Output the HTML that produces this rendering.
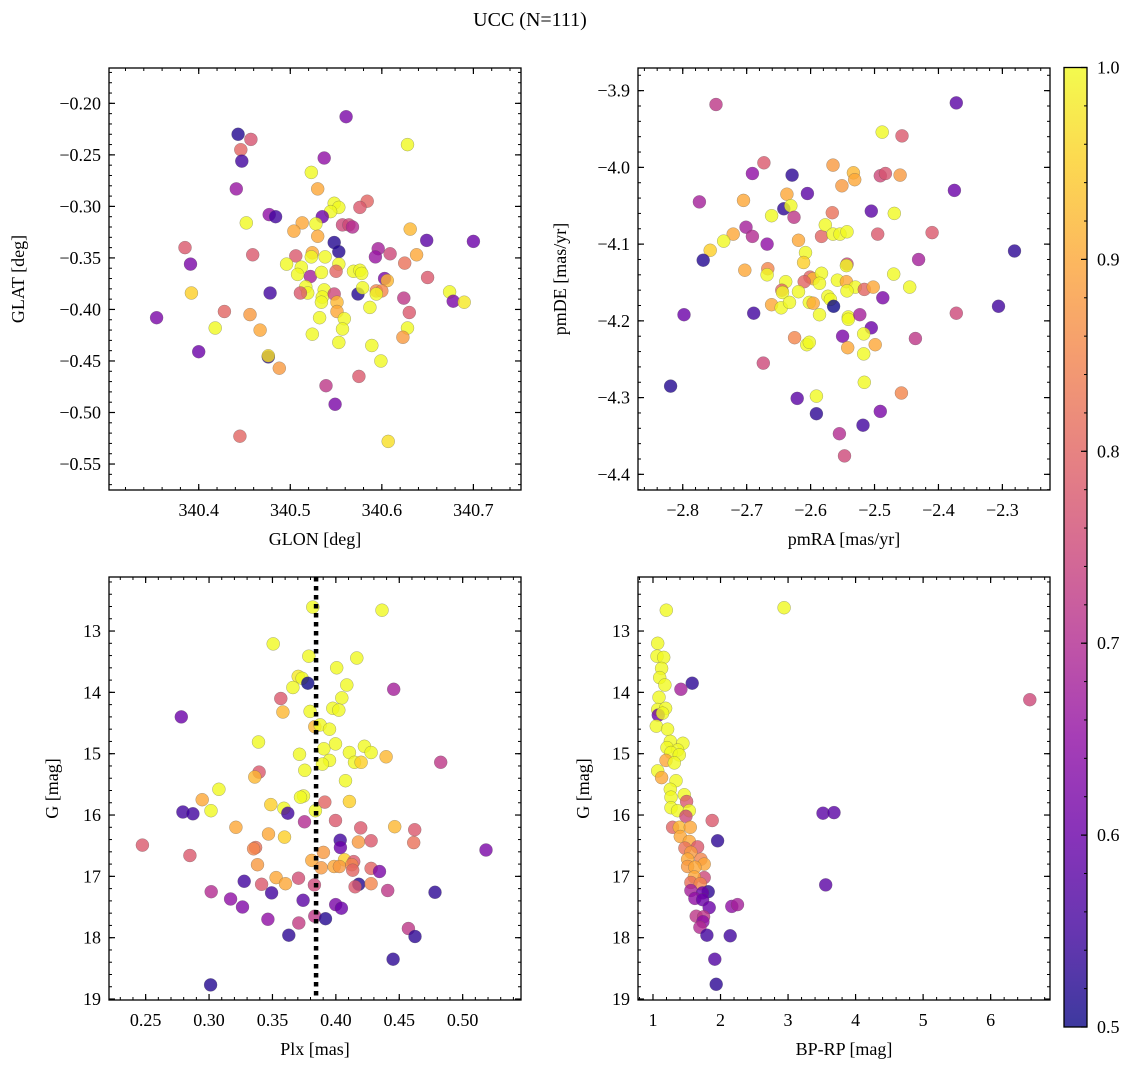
<!DOCTYPE html>
<html><head><meta charset="utf-8"><style>
html,body{margin:0;padding:0;background:#fff;}
svg{display:block;font-family:"Liberation Serif","DejaVu Serif",serif;}
</style></head><body>
<svg id="fig" width="1136" height="1067" viewBox="0 0 1136 1067" xmlns="http://www.w3.org/2000/svg">
<defs>
<linearGradient id="plasma" x1="0" y1="1" x2="0" y2="0">
<stop offset="0" stop-color="#0d0887"/><stop offset="0.1" stop-color="#41049d"/><stop offset="0.2" stop-color="#6a00a8"/><stop offset="0.3" stop-color="#8f0da4"/><stop offset="0.4" stop-color="#b12a90"/><stop offset="0.5" stop-color="#cc4778"/><stop offset="0.6" stop-color="#e16462"/><stop offset="0.7" stop-color="#f2844b"/><stop offset="0.8" stop-color="#fca636"/><stop offset="0.9" stop-color="#fcce25"/><stop offset="1" stop-color="#f0f921"/>
</linearGradient>
</defs>
<text x="530" y="26" font-size="20" text-anchor="middle">UCC (N=111)</text>
</svg>
<script>
// ---------- Panel 1: GLON / GLAT ----------
const p1Glon=[340.561,340.443,340.457,340.446,340.447,340.628,340.537,340.523,340.441,340.530,340.584,340.576,340.548,340.553,340.544,340.477,340.484,340.535,340.452,340.513,340.528,340.504,340.530,340.557,340.564,340.568,340.631,340.548,340.553,340.649,340.700,340.385,340.459,340.506,340.524,340.523,340.538,340.596,340.593,340.609,340.638,340.391,340.496,340.512,340.508,340.522,340.534,340.553,340.550,340.569,340.576,340.578,340.625,340.603,340.606,340.650,340.392,340.478,340.517,340.519,340.511,340.537,340.535,340.548,340.574,340.579,340.594,340.600,340.594,340.624,340.674,340.678,340.690,340.534,340.551,340.551,340.587,340.354,340.428,340.456,340.630,340.532,340.559,340.418,340.467,340.557,340.628,340.623,340.524,340.553,340.589,340.400,340.476,340.476,340.599,340.488,340.575,340.539,340.549,340.445,340.607];
const p1Glat=[-0.213,-0.230,-0.235,-0.245,-0.256,-0.240,-0.253,-0.267,-0.283,-0.283,-0.295,-0.301,-0.297,-0.301,-0.305,-0.308,-0.310,-0.310,-0.316,-0.316,-0.317,-0.324,-0.329,-0.318,-0.318,-0.320,-0.322,-0.335,-0.344,-0.333,-0.334,-0.340,-0.347,-0.348,-0.345,-0.349,-0.349,-0.341,-0.349,-0.346,-0.347,-0.356,-0.356,-0.359,-0.366,-0.368,-0.364,-0.356,-0.363,-0.363,-0.362,-0.365,-0.355,-0.370,-0.372,-0.369,-0.384,-0.384,-0.378,-0.384,-0.384,-0.381,-0.388,-0.385,-0.385,-0.379,-0.382,-0.382,-0.385,-0.389,-0.383,-0.392,-0.393,-0.393,-0.393,-0.402,-0.398,-0.408,-0.402,-0.405,-0.403,-0.408,-0.409,-0.418,-0.420,-0.419,-0.418,-0.427,-0.424,-0.432,-0.435,-0.441,-0.446,-0.445,-0.450,-0.457,-0.465,-0.474,-0.492,-0.523,-0.528];
const p1Prob=[0.62,0.52,0.77,0.8,0.55,1.0,0.65,1.0,0.66,0.9,0.8,0.78,1.0,1.0,1.0,0.65,0.55,0.6,1.0,0.9,1.0,0.9,0.9,0.75,0.75,0.7,0.92,0.52,0.52,0.58,0.6,0.78,0.78,0.78,0.9,1.0,1.0,0.68,0.66,0.75,0.9,0.62,1.0,1.0,1.0,0.68,1.0,1.0,0.8,1.0,1.0,1.0,0.82,0.62,0.92,0.78,0.95,0.55,1.0,1.0,0.78,1.0,1.0,0.75,0.52,1.0,0.85,0.85,1.0,0.72,1.0,0.62,0.98,1.0,0.92,0.9,1.0,0.62,0.8,0.88,0.78,1.0,1.0,1.0,0.9,1.0,1.0,0.88,1.0,1.0,1.0,0.6,0.52,0.97,1.0,0.88,0.78,0.72,0.62,0.8,0.97];
const p1XTicks=[340.4,340.5,340.6,340.7];
const p1YTicks=[-0.20,-0.25,-0.30,-0.35,-0.40,-0.45,-0.50,-0.55];

// ---------- Panel 2: pmRA / pmDE ----------
const p2PmRA=[-2.748,-2.372,-2.488,-2.457,-2.673,-2.565,-2.691,-2.629,-2.533,-2.531,-2.491,-2.483,-2.460,-2.551,-2.605,-2.375,-2.774,-2.705,-2.637,-2.642,-2.631,-2.661,-2.626,-2.566,-2.505,-2.469,-2.701,-2.691,-2.721,-2.736,-2.757,-2.768,-2.668,-2.619,-2.583,-2.577,-2.565,-2.554,-2.543,-2.495,-2.410,-2.608,-2.611,-2.543,-2.544,-2.431,-2.281,-2.703,-2.667,-2.668,-2.601,-2.596,-2.583,-2.586,-2.639,-2.610,-2.558,-2.544,-2.530,-2.543,-2.516,-2.502,-2.470,-2.445,-2.645,-2.644,-2.619,-2.661,-2.646,-2.633,-2.602,-2.596,-2.573,-2.569,-2.564,-2.487,-2.798,-2.689,-2.586,-2.541,-2.541,-2.523,-2.372,-2.306,-2.505,-2.517,-2.550,-2.625,-2.436,-2.606,-2.602,-2.542,-2.499,-2.517,-2.674,-2.516,-2.819,-2.458,-2.621,-2.591,-2.591,-2.491,-2.518,-2.555,-2.547];
const p2PmDE=[-3.918,-3.916,-3.954,-3.959,-3.994,-3.997,-4.008,-4.010,-4.007,-4.016,-4.011,-4.008,-4.010,-4.024,-4.034,-4.030,-4.045,-4.043,-4.035,-4.054,-4.050,-4.063,-4.065,-4.059,-4.057,-4.060,-4.078,-4.090,-4.087,-4.096,-4.108,-4.121,-4.100,-4.095,-4.090,-4.075,-4.087,-4.087,-4.084,-4.087,-4.085,-4.111,-4.124,-4.126,-4.128,-4.120,-4.109,-4.134,-4.132,-4.140,-4.143,-4.145,-4.138,-4.151,-4.149,-4.149,-4.147,-4.149,-4.156,-4.161,-4.159,-4.156,-4.139,-4.156,-4.160,-4.163,-4.162,-4.179,-4.183,-4.176,-4.176,-4.177,-4.168,-4.172,-4.181,-4.170,-4.192,-4.190,-4.192,-4.195,-4.198,-4.192,-4.190,-4.181,-4.209,-4.217,-4.220,-4.222,-4.223,-4.231,-4.228,-4.235,-4.231,-4.243,-4.255,-4.280,-4.285,-4.294,-4.301,-4.298,-4.321,-4.318,-4.336,-4.347,-4.376];
const p2Prob=[0.72,0.58,1.0,0.78,0.78,0.88,0.65,0.53,0.92,0.9,0.75,0.77,0.88,0.88,0.58,0.6,0.68,0.9,0.9,0.53,1.0,1.0,0.72,0.82,0.58,1.0,0.68,0.7,0.9,1.0,0.95,0.52,0.65,0.9,0.8,1.0,1.0,1.0,1.0,0.78,0.78,1.0,0.95,0.75,1.0,0.68,0.53,0.9,0.85,1.0,0.8,0.92,1.0,1.0,1.0,0.8,1.0,0.9,1.0,1.0,0.8,0.9,1.0,1.0,0.8,1.0,1.0,0.9,1.0,1.0,1.0,0.9,1.0,1.0,0.5,0.62,0.6,0.55,1.0,1.0,1.0,0.68,0.75,0.55,0.6,1.0,0.62,0.85,0.72,1.0,1.0,0.9,0.9,1.0,0.75,1.0,0.52,0.85,0.58,1.0,0.53,0.62,0.55,0.7,0.75];
const p2XTicks=[-2.8,-2.7,-2.6,-2.5,-2.4,-2.3];
const p2YTicks=[-3.9,-4.0,-4.1,-4.2,-4.3,-4.4];

// ---------- Panel 3: Plx / G ----------
const p3Plx=[.3818,.4364,.3506,.4165,.3787,.4007,.3703,.3734,.3779,.3661,.4086,.4456,.3566,.4047,.3582,.3976,.4023,.3797,.2781,.3834,.3876,.3950,.3390,.3997,.3905,.4225,.4278,.3713,.4107,.4396,.3950,.3894,.4147,.4199,.4827,.3755,.3395,.3361,.4076,.3078,.2946,.3745,.3721,.3913,.4107,.3487,.3590,.3621,.3015,.2794,.2873,.3839,.3753,.3997,.4196,.3212,.4464,.4622,.3469,.3595,.4034,.4178,.4278,.4614,.4036,.2474,.3367,.3351,.5184,.2849,.3902,.3810,.4068,.4141,.3382,.3884,.3986,.4028,.4126,.4278,.4344,.4133,.3529,.3705,.3277,.3414,.3603,.3831,.4181,.4152,.4278,.3017,.3493,.4409,.4782,.3170,.3742,.3264,.3999,.4044,.3464,.3834,.3918,.3708,.4572,.3629,.4624,.4451,.3012];
const p3G=[12.61,12.66,13.21,13.44,13.41,13.60,13.74,13.77,13.85,13.92,13.88,13.95,14.10,14.09,14.32,14.26,14.29,14.31,14.40,14.56,14.53,14.60,14.81,14.84,14.92,14.88,14.98,15.01,14.98,15.05,15.11,15.17,15.14,15.14,15.14,15.27,15.30,15.38,15.44,15.58,15.75,15.69,15.71,15.79,15.78,15.83,15.89,15.97,15.93,15.95,15.98,15.93,16.11,16.09,16.21,16.20,16.19,16.24,16.31,16.36,16.41,16.44,16.42,16.45,16.53,16.49,16.53,16.55,16.57,16.66,16.61,16.74,16.73,16.76,16.81,16.86,16.84,16.84,16.81,16.87,16.92,16.90,17.02,17.03,17.08,17.13,17.12,17.14,17.13,17.17,17.12,17.25,17.27,17.23,17.26,17.37,17.39,17.50,17.46,17.52,17.70,17.65,17.69,17.76,17.85,17.96,17.98,18.35,18.77];
const p3Prob=[1.0,1.0,1.0,1.0,1.0,1.0,0.98,1.0,0.5,1.0,1.0,0.68,0.78,1.0,0.92,1.0,1.0,1.0,0.6,0.92,1.0,1.0,1.0,1.0,1.0,1.0,1.0,1.0,1.0,0.92,1.0,1.0,1.0,0.95,0.72,1.0,0.78,0.92,1.0,1.0,0.9,1.0,1.0,0.8,0.95,0.95,1.0,0.55,1.0,0.55,0.55,1.0,0.7,0.78,0.78,0.9,0.92,0.78,0.9,0.95,0.55,0.88,0.78,0.82,0.6,0.78,0.82,0.85,0.62,0.78,0.88,0.9,0.95,0.78,0.88,0.88,0.9,0.88,0.85,0.8,0.62,0.8,0.9,0.76,0.55,0.78,0.9,0.75,0.52,0.78,0.85,0.7,0.55,0.72,0.53,0.65,0.58,0.63,0.62,0.6,0.65,0.72,0.52,0.73,0.72,0.53,0.53,0.53,0.52];
const p3XTicks=[0.25,0.30,0.35,0.40,0.45,0.50];
const p3YTicks=[13,14,15,16,17,18,19];
const p3PlxMedian=0.3844;

// ---------- Panel 4: BP-RP / G ----------
const p4BpRp=[1.197,2.941,1.069,1.059,1.158,1.128,1.099,1.177,1.581,1.414,1.089,1.069,1.187,1.079,1.143,1.049,1.217,1.256,1.443,1.207,1.365,1.266,1.389,1.192,1.315,1.069,1.128,1.340,1.256,1.266,1.463,1.498,1.266,1.365,1.537,1.877,3.517,3.680,1.488,1.291,1.389,1.552,1.404,1.956,1.537,1.660,1.473,1.562,1.512,1.709,1.759,1.512,1.621,1.759,1.611,1.562,1.700,3.557,1.562,1.818,1.734,1.621,1.734,1.833,2.167,2.251,1.640,1.749,1.739,1.695,1.798,2.143,1.916,1.936,6.58];
const p4G=[12.66,12.62,13.20,13.41,13.43,13.61,13.76,13.88,13.85,13.95,14.08,14.28,14.26,14.37,14.34,14.55,14.60,14.80,14.83,14.90,14.94,14.98,15.02,15.11,15.15,15.28,15.39,15.44,15.58,15.71,15.67,15.78,15.88,15.93,15.93,16.09,15.97,15.96,16.02,16.20,16.20,16.20,16.35,16.42,16.43,16.52,16.54,16.61,16.72,16.72,16.80,16.84,16.85,17.02,17.01,17.10,17.12,17.14,17.23,17.25,17.27,17.36,17.38,17.51,17.49,17.46,17.65,17.66,17.74,17.83,17.96,17.97,18.35,18.76,14.12];
const p4Prob=[1.0,1.0,1.0,1.0,1.0,1.0,1.0,1.0,0.53,0.68,1.0,1.0,1.0,0.6,1.0,1.0,1.0,1.0,1.0,1.0,1.0,1.0,1.0,0.9,1.0,1.0,0.9,1.0,1.0,1.0,1.0,0.78,1.0,1.0,1.0,0.78,0.58,0.58,0.75,0.8,0.92,0.9,0.9,0.53,0.9,0.78,0.82,0.88,0.9,0.85,0.9,0.88,0.9,0.75,0.9,0.82,0.85,0.58,0.68,0.53,0.6,0.65,0.6,0.6,0.65,0.68,0.72,0.72,0.65,0.7,0.55,0.55,0.57,0.53,0.75];
const p4XTicks=[1,2,3,4,5,6];
const p4YTicks=[13,14,15,16,17,18,19];

// ---------- Colorbar ----------
const cbTicks=[0.5,0.6,0.7,0.8,0.9,1.0];

const NS='http://www.w3.org/2000/svg';
const svg=document.getElementById('fig');
const stops=[[13,8,135],[65,4,157],[106,0,168],[143,13,164],[177,42,144],[204,71,120],[225,100,98],[242,132,75],[252,166,54],[252,206,37],[240,249,33]];
function plasma(v){let t=Math.max(0,Math.min(1,(v-0.5)/0.5))*10;let i=Math.min(9,Math.floor(t));let f=t-i;const a=stops[i],b=stops[i+1];return 'rgb('+a.map((c,k)=>Math.round(c+(b[k]-c)*f)).join(',')+')';}
function mk(tag,attrs,parent){const e=document.createElementNS(NS,tag);for(const k in attrs)e.setAttribute(k,attrs[k]);(parent||svg).appendChild(e);return e;}

function panel(c){
  const g=mk('g',{});
  
  
  const sx=v=>c.x0+(v-c.xmin)/(c.xmax-c.xmin)*(c.x1-c.x0);
  const sy=c.invert?(v=>c.y0+(v-c.ymin)/(c.ymax-c.ymin)*(c.y1-c.y0)):(v=>c.y1-(v-c.ymin)/(c.ymax-c.ymin)*(c.y1-c.y0));
  const clip=mk('clipPath',{id:'clip-'+c.name},g);
  mk('rect',{x:c.x0,y:c.y0,width:c.x1-c.x0,height:c.y1-c.y0},clip);
  const pts=mk('g',{'clip-path':'url(#clip-'+c.name+')'},g);
  for(let i=0;i<c.xs.length;i++){
    const p=mk('circle',{cx:sx(c.xs[i]).toFixed(1),cy:sy(c.ys[i]).toFixed(1),r:6.5,fill:plasma(c.cs[i]),'fill-opacity':0.8,stroke:'#555','stroke-opacity':0.5,'stroke-width':0.5},pts);
    
    
  }
  if(c.vline!==undefined){
    const l=mk('line',{x1:sx(c.vline),x2:sx(c.vline),y1:c.y0,y2:c.y1,stroke:'#000','stroke-width':4.5,'stroke-dasharray':'4.5,4.5'},g);
    
    
  }
  for(let v=Math.ceil(c.xmin/c.xminor-1e-6)*c.xminor;v<=c.xmax+1e-9;v+=c.xminor){const x=sx(v);mk('line',{x1:x,x2:x,y1:c.y1,y2:c.y1-3,stroke:'#000','stroke-width':1},g);mk('line',{x1:x,x2:x,y1:c.y0,y2:c.y0+3,stroke:'#000','stroke-width':1},g);}
  for(let v=Math.ceil(c.ymin/c.yminor-1e-6)*c.yminor;v<=c.ymax+1e-9;v+=c.yminor){const y=sy(v);mk('line',{x1:c.x0,x2:c.x0+3,y1:y,y2:y,stroke:'#000','stroke-width':1},g);mk('line',{x1:c.x1,x2:c.x1-3,y1:y,y2:y,stroke:'#000','stroke-width':1},g);}
  c.xt.forEach(v=>{const x=sx(v);mk('line',{x1:x,x2:x,y1:c.y1,y2:c.y1-6,stroke:'#000','stroke-width':1.2},g);mk('line',{x1:x,x2:x,y1:c.y0,y2:c.y0+6,stroke:'#000','stroke-width':1.2},g);
    const t=mk('text',{x:x,y:c.y1+26,'font-size':18,'text-anchor':'middle'},g);t.textContent=c.xfmt(v).replace('-','\u2212');
    
    });
  c.yt.forEach(v=>{const y=sy(v);mk('line',{x1:c.x0,x2:c.x0+6,y1:y,y2:y,stroke:'#000','stroke-width':1.2},g);mk('line',{x1:c.x1,x2:c.x1-6,y1:y,y2:y,stroke:'#000','stroke-width':1.2},g);
    const t=mk('text',{x:c.x0-8,y:y+6,'font-size':18,'text-anchor':'end'},g);t.textContent=c.yfmt(v).replace('-','\u2212');
    
    });
  const fr=mk('rect',{x:c.x0,y:c.y0,width:c.x1-c.x0,height:c.y1-c.y0,fill:'none',stroke:'#000','stroke-width':1.3},g);
  
  
  const xl=mk('text',{x:(c.x0+c.x1)/2,y:c.y1+55,'font-size':18,'text-anchor':'middle'},g);xl.textContent=c.xlabel;
  
  
  const yx=c.ylx, yy=(c.y0+c.y1)/2;
  const yl=mk('text',{x:yx,y:yy,'font-size':18,'text-anchor':'middle',transform:'rotate(-90 '+yx+' '+yy+')'},g);yl.textContent=c.ylabel;
  
  
}

panel({name:'glon-glat-panel',x0:109,x1:521,y0:68,y1:490,xmin:340.302,xmax:340.752,ymin:-0.5752,ymax:-0.1657,xs:p1Glon,ys:p1Glat,cs:p1Prob,xt:p1XTicks,yt:p1YTicks,xminor:0.02,yminor:0.01,xfmt:v=>v.toFixed(1),yfmt:v=>v.toFixed(2),xlabel:'GLON [deg]',ylabel:'GLAT [deg]',ylx:24});
panel({name:'pm-panel',x0:638,x1:1050,y0:68,y1:490,xmin:-2.870,xmax:-2.2255,ymin:-4.4204,ymax:-3.8705,xs:p2PmRA,ys:p2PmDE,cs:p2Prob,xt:p2XTicks,yt:p2YTicks,xminor:0.02,yminor:0.02,xfmt:v=>v.toFixed(1),yfmt:v=>v.toFixed(1),xlabel:'pmRA [mas/yr]',ylabel:'pmDE [mas/yr]',ylx:566});
panel({name:'plx-g-panel',x0:109,x1:521,y0:577,y1:1000,xmin:0.2211,xmax:0.546,ymin:12.119,ymax:19.016,invert:true,xs:p3Plx,ys:p3G,cs:p3Prob,xt:p3XTicks,yt:p3YTicks,xminor:0.01,yminor:0.2,xfmt:v=>v.toFixed(2),yfmt:v=>String(v),xlabel:'Plx [mas]',ylabel:'G [mag]',ylx:58,vline:p3PlxMedian});
panel({name:'cmd-panel',x0:638,x1:1050,y0:577,y1:1000,xmin:0.778,xmax:6.879,ymin:12.119,ymax:19.016,invert:true,xs:p4BpRp,ys:p4G,cs:p4Prob,xt:p4XTicks,yt:p4YTicks,xminor:0.2,yminor:0.2,xfmt:v=>String(v),yfmt:v=>String(v),xlabel:'BP-RP [mag]',ylabel:'G [mag]',ylx:589});

const cb=mk('g',{});


const cy0=67.5,cy1=1027,cx0=1064,cx1=1087;
const cbY=v=>cy1-(v-0.5)/0.5*(cy1-cy0);
mk('rect',{x:cx0,y:cy0,width:cx1-cx0,height:cy1-cy0,fill:'url(#plasma)','fill-opacity':0.8},cb);
for(let v=0.5;v<=1.0001;v+=0.02){const y=cbY(v);mk('line',{x1:cx1,x2:cx1-3,y1:y,y2:y,stroke:'#000','stroke-width':1},cb);}
cbTicks.forEach(v=>{const y=cbY(v);mk('line',{x1:cx1,x2:cx1-6,y1:y,y2:y,stroke:'#000','stroke-width':1.2},cb);
  const t=mk('text',{x:cx1+10,y:y+6,'font-size':18},cb);t.textContent=v.toFixed(1);
  
  });
mk('rect',{x:cx0,y:cy0,width:cx1-cx0,height:cy1-cy0,fill:'none',stroke:'#000','stroke-width':1.3},cb);
</script>
</body></html>
